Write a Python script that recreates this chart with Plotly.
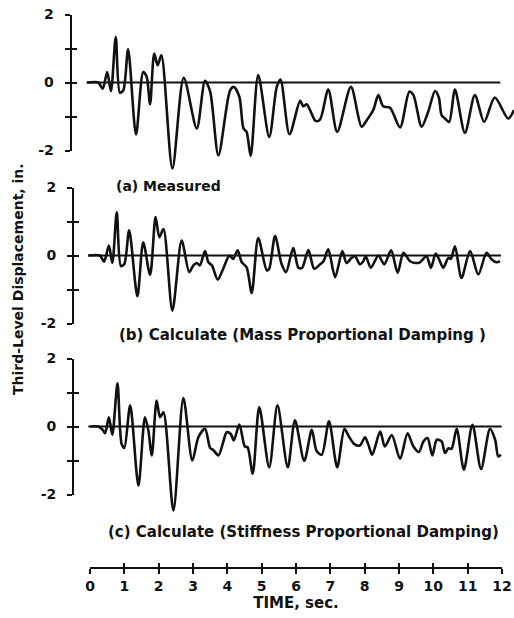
import plotly.graph_objects as go

# ---------------- data ----------------
t_a = [-0.08, 0.24, 0.37, 0.50, 0.61, 0.75, 0.87, 0.97, 1.11, 1.34,
       1.55, 1.65, 1.75, 1.87, 1.97, 2.08, 2.40, 2.73, 3.11, 3.35,
       3.50, 3.74, 4.08, 4.19, 4.35, 4.47, 4.56, 4.68, 4.90, 5.22,
       5.44, 5.55, 5.81, 6.12, 6.21, 6.31, 6.41, 6.57, 6.70, 6.94,
       7.20, 7.60, 7.91, 8.06, 8.25, 8.40, 8.54, 8.74, 9.03, 9.30,
       9.42, 9.66, 9.85, 10.05, 10.16, 10.24, 10.34, 10.46, 10.63, 10.92,
       11.21, 11.48, 11.79, 12.18, 12.35]
v_a = [0, 0, -0.18, 0.31, -0.25, 1.34, -0.30, -0.23, 0.98, -1.53,
       0.31, 0.17, -0.64, 0.85, 0.51, 0.80, -2.53, 0.14, -1.35, 0.05,
       -0.27, -2.14, -0.23, -0.13, -0.42, -1.35, -1.45, -2.16, 0.22, -1.60,
       -0.13, 0.09, -1.52, -0.54, -0.70, -0.64, -0.81, -1.13, -1.09, -0.21,
       -1.45, -0.13, -1.30, -1.11, -0.81, -0.37, -0.70, -0.74, -1.32, -0.27,
       -0.37, -1.30, -0.86, -0.25, -0.44, -0.96, -1.06, -1.16, -0.21, -1.48,
       -0.37, -1.16, -0.44, -1.06, -0.81]

t_b = [-0.05, 0.29, 0.41, 0.55, 0.65, 0.78, 0.90, 1.00, 1.14, 1.38,
       1.55, 1.75, 1.91, 2.02, 2.14, 2.40, 2.67, 2.89, 3.01, 3.11,
       3.20, 3.35, 3.45, 3.55, 3.72, 3.88, 4.06, 4.17, 4.30, 4.42,
       4.56, 4.71, 4.90, 5.15, 5.22, 5.39, 5.58, 5.71, 5.92, 6.07,
       6.18, 6.36, 6.53, 6.70, 6.80, 6.94, 7.14, 7.35, 7.47, 7.62,
       7.72, 7.86, 7.96, 8.03, 8.18, 8.40, 8.57, 8.77, 8.96, 9.13,
       9.32, 9.47, 9.61, 9.80, 9.93, 10.07, 10.17, 10.29, 10.44, 10.51,
       10.63, 10.82, 11.07, 11.31, 11.55, 11.70, 11.84, 11.94]
v_b = [0, 0, -0.18, 0.29, -0.22, 1.27, -0.31, -0.25, 0.74, -1.20,
       0.39, -0.57, 1.13, 0.54, 0.78, -1.62, 0.44, -0.49, -0.29, -0.22,
       -0.29, 0.13, -0.20, -0.29, -0.71, -0.39, 0, -0.10, 0.15, -0.20,
       -0.34, -1.10, 0.51, -0.44, -0.39, 0.57, -0.25, -0.49, 0.22, -0.36,
       -0.36, 0.16, -0.39, -0.26, -0.17, 0.18, -0.64, 0.13, -0.22, -0.07,
       -0.02, -0.26, -0.17, -0.02, -0.36, 0, -0.26, 0.15, -0.51, 0.08,
       -0.17, -0.22, -0.20, -0.02, -0.36, 0.06, -0.12, -0.36, -0.07, -0.10,
       0.27, -0.66, 0.13, -0.56, 0.08, -0.12, -0.20, -0.17]

t_c = [0.00, 0.24, 0.37, 0.44, 0.55, 0.65, 0.80, 0.92, 1.00, 1.17,
       1.41, 1.60, 1.70, 1.80, 1.94, 2.04, 2.14, 2.43, 2.72, 2.98,
       3.16, 3.35, 3.50, 3.59, 3.74, 3.88, 3.98, 4.10, 4.19, 4.35,
       4.51, 4.59, 4.74, 4.93, 5.22, 5.46, 5.76, 5.97, 6.24, 6.46,
       6.60, 6.75, 6.96, 7.20, 7.41, 7.54, 7.70, 7.86, 8.01, 8.11,
       8.22, 8.45, 8.59, 8.79, 9.03, 9.25, 9.42, 9.58, 9.71, 9.83,
       9.97, 10.10, 10.24, 10.34, 10.44, 10.53, 10.68, 10.89, 11.14, 11.39,
       11.65, 11.80, 11.89, 11.97]
v_c = [0, 0, -0.10, -0.20, 0.27, -0.24, 1.27, -0.51, -0.63, 0.62,
       -1.74, 0.27, -0.12, -0.85, 0.76, 0.27, 0.42, -2.47, 0.84, -1.00,
       -0.31, -0.07, -0.63, -0.69, -0.85, -0.46, -0.17, -0.22, -0.41, 0.06,
       -0.59, -0.61, -1.39, 0.57, -1.20, 0.62, -1.20, 0.18, -1.01, -0.10,
       -0.72, -0.83, 0.15, -1.20, -0.07, -0.29, -0.52, -0.56, -0.32, -0.54,
       -0.83, -0.15, -0.59, -0.25, -0.95, -0.20, -0.59, -0.75, -0.44, -0.34,
       -0.85, -0.39, -0.44, -0.78, -0.64, -0.66, -0.07, -1.27, 0.05, -1.25,
       -0.07, -0.39, -0.88, -0.83]

zero_a = [-0.10, 11.95]
zero_b = [-0.05, 11.97]
zero_c = [-0.05, 11.99]

time_ticks = list(range(0, 13))
disp_tick_vals = [-2, -1, 0, 1, 2]
disp_tick_text = ["-2", "", "0", "", "2"]

panel_labels = ["(a) Measured",
                "(b) Calculate (Mass Proportional Damping )",
                "(c) Calculate (Stiffness Proportional Damping)"]
y_title = "Third-Level Displacement, in."
x_title = "TIME, sec."

# ---------------- layout geometry (pixels) ----------------
W, H = 514, 618
X0_PX, X12_PX = 90, 502
PX_PER_SEC = (X12_PX - X0_PX) / 12.0
PX_PER_UNIT = 34.0
FONT = "DejaVu Sans"
BLACK = "#111111"

def py(px):  # pixel row -> paper y
    return 1 - px / H

def pxx(px):  # pixel column -> paper x
    return px / W

x_range = [(0 - X0_PX) / PX_PER_SEC, (W - X0_PX) / PX_PER_SEC]

panels = [
    dict(t=t_a, v=v_a, z=zero_a, y0=82.5, ax=70.5, top=8, bot=178, lab=(168, 186), fs=14),
    dict(t=t_b, v=v_b, z=zero_b, y0=255.5, ax=73.0, top=182, bot=330, lab=(302, 335), fs=15),
    dict(t=t_c, v=v_c, z=zero_c, y0=426.5, ax=73.0, top=345, bot=525, lab=(303, 532), fs=15),
]

fig = go.Figure()
layout = dict(
    template="none",
    width=W, height=H,
    margin=dict(l=0, r=0, t=0, b=0, pad=0),
    paper_bgcolor="white", plot_bgcolor="rgba(0,0,0,0)",
    showlegend=False,
    xaxis=dict(domain=[0, 1], range=x_range, visible=False, fixedrange=True,
               automargin=False),
)

annotations = []
ax_id = 1
for i, p in enumerate(panels):
    d_id = ax_id
    t_id = ax_id + 1
    in_id = ax_id + 2
    ax_id += 3
    dk = "yaxis" if d_id == 1 else f"yaxis{d_id}"
    layout[dk] = dict(
        domain=[py(p["bot"]), py(p["top"])],
        range=[(p["y0"] - p["bot"]) / PX_PER_UNIT, (p["y0"] - p["top"]) / PX_PER_UNIT],
        visible=False, fixedrange=True, automargin=False,
    )
    tick_dom = [py(p["y0"] + 2 * PX_PER_UNIT), py(p["y0"] - 2 * PX_PER_UNIT)]
    layout[f"yaxis{t_id}"] = dict(
        domain=tick_dom, range=[-2, 2], anchor="free", position=pxx(p["ax"]),
        showline=True, linecolor=BLACK, linewidth=2, showgrid=False, zeroline=False,
        ticks="outside", ticklen=5, tickwidth=2, tickcolor=BLACK,
        tickvals=disp_tick_vals, ticktext=disp_tick_text, ticklabelstandoff=8,
        tickfont=dict(family=FONT, size=14, color=BLACK, weight="bold"),
        fixedrange=True, automargin=False,
    )
    layout[f"yaxis{in_id}"] = dict(
        overlaying=f"y{t_id}", range=[-2, 2], anchor="free", position=pxx(p["ax"]),
        showline=False, showgrid=False, zeroline=False,
        ticks="inside", ticklen=5, tickwidth=2, tickcolor=BLACK,
        tickvals=disp_tick_vals, showticklabels=False, fixedrange=True, automargin=False,
    )
    yref = "y" if d_id == 1 else f"y{d_id}"
    fig.add_trace(go.Scatter(x=p["z"], y=[0, 0], mode="lines", xaxis="x", yaxis=yref,
                             line=dict(color=BLACK, width=2), hoverinfo="skip"))
    fig.add_trace(go.Scatter(x=p["t"], y=p["v"], mode="lines", xaxis="x", yaxis=yref,
                             line=dict(color=BLACK, width=2.6, shape="spline", smoothing=0.8)))
    for a in (t_id, in_id):
        fig.add_trace(go.Scatter(x=[0], y=[0], mode="markers", xaxis="x", yaxis=f"y{a}",
                                 marker=dict(opacity=0), hoverinfo="skip"))
    annotations.append(dict(
        text=panel_labels[i], x=pxx(p["lab"][0]), y=py(p["lab"][1]),
        xref="paper", yref="paper", xanchor="center", yanchor="middle", showarrow=False,
        font=dict(family=FONT, size=p["fs"], color=BLACK, weight="bold"),
    ))

AXIS_ROW = 568
layout["xaxis2"] = dict(
    domain=[pxx(X0_PX), pxx(X12_PX)], range=[0, 12], anchor="free", position=py(AXIS_ROW),
    showline=True, linecolor=BLACK, linewidth=2, showgrid=False, zeroline=False,
    ticks="outside", ticklen=5, tickwidth=2, tickcolor=BLACK,
    tickvals=time_ticks, ticktext=[str(v) for v in time_ticks],
    tickfont=dict(family=FONT, size=14, color=BLACK, weight="bold"),
    title=dict(text=x_title, standoff=1,
               font=dict(family=FONT, size=15, color=BLACK, weight="bold")),
    fixedrange=True, automargin=False,
)
layout["xaxis3"] = dict(
    overlaying="x2", range=[0, 12], anchor="free", position=py(AXIS_ROW),
    showline=False, showgrid=False, zeroline=False,
    ticks="inside", ticklen=5, tickwidth=2, tickcolor=BLACK,
    tickvals=time_ticks, showticklabels=False, fixedrange=True, automargin=False,
)
for xa in ("x2", "x3"):
    fig.add_trace(go.Scatter(x=[0], y=[0], mode="markers", xaxis=xa, yaxis="y",
                             marker=dict(opacity=0), hoverinfo="skip"))

annotations.append(dict(
    text=y_title, x=pxx(18), y=py(279), xref="paper", yref="paper",
    xanchor="center", yanchor="middle", textangle=-90, showarrow=False,
    font=dict(family=FONT, size=14, color=BLACK, weight="bold"),
))
layout["annotations"] = annotations

fig.update_layout(**layout)
fig.write_html("out.html")
